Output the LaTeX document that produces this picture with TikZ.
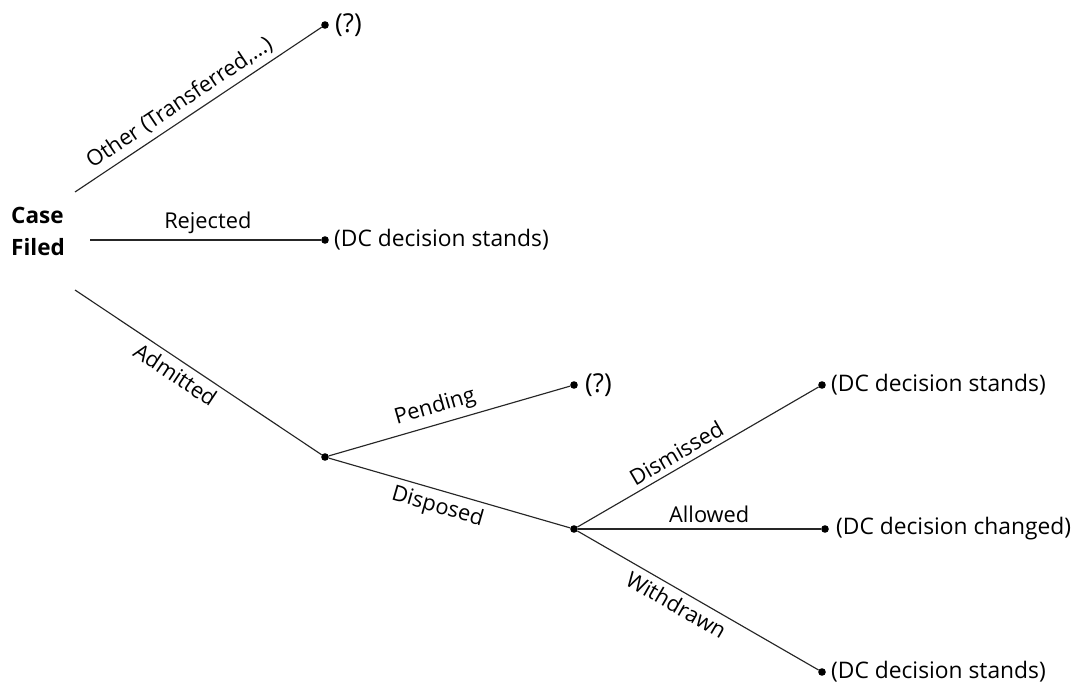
\documentclass[tikz,border=0pt]{standalone}
\usepackage{fontspec}
\setmainfont{Open Sans}
\usetikzlibrary{positioning}
\tikzset{
  dot/.style={circle,fill=black,inner sep=0pt,minimum size=7.6pt},
  lbl/.style={font=\fontsize{21.8}{26}\selectfont, sloped, inner sep=5.5pt},
  endtxt/.style={font=\fontsize{22.8}{27}\selectfont, inner sep=0pt},
  qtxt/.style={font=\fontsize{26}{30}\selectfont, inner sep=0pt},
  edge/.style={line width=1.15pt, draw=black!85},
}
\begin{document}
\begin{tikzpicture}[x=1pt,y=-1pt]
\useasboundingbox (0,0) rectangle (1074,685);
% root
\node[font=\fontsize{22.5}{32}\selectfont\bfseries, align=left, inner sep=0pt] (case) at (38,231) {Case\\Filed};
\coordinate (o0) at (75,192);
\coordinate (r0) at (90,240);
\coordinate (a0) at (75,290);
% end points and branch points
\node[dot] (q1) at (325,25) {};
\node[dot] (rj) at (325,240) {};
\node[dot] (ad) at (325,457) {};
\node[dot] (q2) at (574,385) {};
\node[dot] (dp) at (574,529) {};
\node[dot] (dm) at (822,385) {};
\node[dot] (al) at (825,529) {};
\node[dot] (wd) at (822,672) {};
% end texts
\node[qtxt, right=6pt of q1] (q1t) {(?)};
\node[endtxt, right=5pt of rj] (rjt) {(DC decision stands)};
\node[qtxt, right=7pt of q2] (q2t) {(?)};
\node[endtxt, right=5pt of dm] (dmt) {(DC decision stands)};
\node[endtxt, right=7pt of al] (alt) {(DC decision changed)};
\node[endtxt, right=5pt of wd] (wdt) {(DC decision stands)};
% edges
\draw[edge] (o0) -- (q1) node[lbl, pos=.46, above] {Other (Transferred,...)};
\draw[edge] (r0) -- (rj) node[lbl, pos=.51, above] {Rejected};
\draw[edge] (a0) -- (ad) node[lbl, pos=.44, below] {Admitted};
\draw[edge] (ad) -- (q2) node[lbl, pos=.46, above] {Pending};
\draw[edge] (ad) -- (dp) node[lbl, pos=.47, below] {Disposed};
\draw[edge] (dp) -- (dm) node[lbl, pos=.44, above] {Dismissed};
\draw[edge] (dp) -- (al) node[lbl, pos=.54, above] {Allowed};
\draw[edge] (dp) -- (wd) node[lbl, pos=.44, below] {Withdrawn};
\end{tikzpicture}
\end{document}
